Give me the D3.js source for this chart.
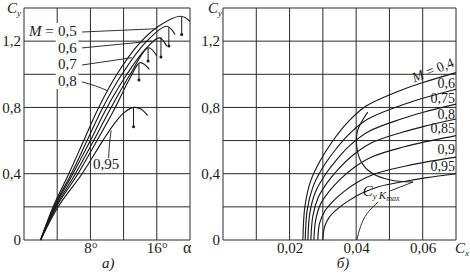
<!DOCTYPE html>
<html><head><meta charset="utf-8">
<script src="https://cdn.jsdelivr.net/npm/d3@7"></script>
<style>
body{margin:0;background:#fff}
svg{display:block}
text{font-family:"Liberation Serif","DejaVu Serif",serif;fill:#1a1a1a}
</style>
</head><body>
<svg id="chart" width="470" height="276"></svg>
<script>
// ---------- data ----------
const alphaGrid = [0, 4, 8, 12, 16, 20];
const alphaTicks = [8, 16];
const alphaTickLabels = ["8°", "16°"];
const cyGrid = [0, 0.2, 0.4, 0.6, 0.8, 1.0, 1.2, 1.4];
const cyTicks = [0, 0.4, 0.8, 1.2];
const cyTickLabels = ["0", "0,4", "0,8", "1,2"];
const cxGrid = [0, 0.01, 0.02, 0.03, 0.04, 0.05, 0.06, 0.07];
const cxTicks = [0.02, 0.04, 0.06];
const cxTickLabels = ["0,02", "0,04", "0,06"];

// panel a: Cy(alpha) for several Mach numbers  [alpha deg, Cy]
const liftMach = ["0,5", "0,6", "0,7", "0,75", "0,8", "0,95"];
const liftCurves = [
  [[2.0,0],[3.5,0.2],[5.4,0.4],[7.2,0.6],[9.0,0.8],[11.2,1.0],[13.8,1.18],[16.2,1.29],[18.9,1.35],[20.0,1.32]],
  [[2.0,0],[3.6,0.2],[5.7,0.4],[7.6,0.6],[9.5,0.8],[11.8,1.0],[14.6,1.19],[17.2,1.29],[18.2,1.24]],
  [[2.0,0],[3.7,0.2],[5.9,0.4],[8.0,0.6],[10.0,0.8],[12.4,1.0],[14.6,1.15],[16.3,1.22],[17.2,1.17]],
  [[2.0,0],[3.8,0.2],[6.2,0.4],[8.4,0.6],[10.5,0.8],[12.8,1.0],[15.0,1.16],[16.0,1.11]],
  [[2.0,0],[3.9,0.2],[6.5,0.4],[8.8,0.6],[11.0,0.8],[12.7,0.97],[14.0,1.07],[15.1,1.03]],
  [[2.0,0],[4.1,0.2],[7.0,0.4],[9.5,0.6],[11.0,0.71],[12.1,0.77],[13.2,0.80],[14.1,0.79],[14.9,0.75]]
];
// stall markers: [alpha, Cy on curve, Cy of dot]
const stallMarks = [[19.0,1.35,1.24],[17.45,1.285,1.17],[16.5,1.225,1.105],[14.95,1.16,1.08],[13.85,1.06,0.966],[13.2,0.80,0.683]];
// labels of panel a: [text, alpha, Cy]
const liftLabels = [["0,5",4.1,1.231],["0,6",4.1,1.129],["0,7",4.1,1.032],["0,8",4.1,0.929]];
const liftLabel95 = ["0,95",8.3,0.428];
const liftLeaders = [
  [[6.99,1.255],[16.0,1.275]],
  [[6.99,1.159],[15.4,1.20]],
  [[6.99,1.056],[13.0,1.10]],
  [[6.99,0.954],[8.6,0.93],[10.1,0.90]],
  [[10.2,0.495],[10.3,0.58],[10.5,0.66]]
];

// panel b: polars Cy(Cx)  [Cx, Cy]
const polarMach = ["0,4", "0,6", "0,75", "0,8", "0,85", "0,9", "0,95"];
const polarCurves = [
  [[0.0240,0],[0.0246,0.202],[0.0263,0.354],[0.0291,0.475],[0.0329,0.596],[0.0373,0.707],[0.0430,0.808],[0.0529,0.899],[0.0599,0.949],[0.0700,1.01]],
  [[0.0247,0],[0.0253,0.182],[0.0270,0.319],[0.0297,0.428],[0.0335,0.537],[0.0378,0.637],[0.0434,0.728],[0.0532,0.810],[0.0600,0.855],[0.0700,0.91]],
  [[0.0255,0],[0.0261,0.164],[0.0277,0.287],[0.0304,0.385],[0.0341,0.484],[0.0383,0.574],[0.0439,0.656],[0.0535,0.730],[0.0602,0.771],[0.0700,0.82]],
  [[0.0264,0],[0.0270,0.146],[0.0286,0.256],[0.0312,0.343],[0.0348,0.431],[0.0390,0.511],[0.0444,0.584],[0.0538,0.650],[0.0604,0.686],[0.0700,0.73]],
  [[0.0273,0],[0.0279,0.126],[0.0294,0.221],[0.0320,0.296],[0.0355,0.372],[0.0396,0.441],[0.0450,0.504],[0.0542,0.561],[0.0606,0.592],[0.0700,0.63]],
  [[0.0285,0],[0.0290,0.100],[0.0306,0.175],[0.0331,0.235],[0.0365,0.295],[0.0405,0.350],[0.0457,0.400],[0.0546,0.445],[0.0608,0.470],[0.0700,0.50]],
  [[0.0300,0],[0.0305,0.080],[0.0320,0.140],[0.0344,0.188],[0.0377,0.236],[0.0415,0.280],[0.0465,0.320],[0.0552,0.356],[0.0612,0.376],[0.0700,0.40]]
];
// polar label baselines: [Cx right end, Cy]
const polarLabelCy = [1.050, 0.917, 0.827, 0.730, 0.646, 0.519, 0.416];
const kmaxLocus = [[0.0435,0.772],[0.0405,0.664],[0.0402,0.561],[0.0417,0.465],[0.0447,0.404],[0.0502,0.362],[0.0571,0.350]];
const kmaxLeaderA = [[0.0502,0.296],[0.0571,0.350]];
const kmaxLeaderB = [[0.0402,0],[0.0413,0.08],[0.0433,0.16],[0.0466,0.229]];
const kmaxLabelPos = [0.0420, 0.266];

// ---------- drawing ----------
const svg = d3.select("#chart");
const xa = d3.scaleLinear().domain([0, 20]).range([24, 190]);
const xc = d3.scaleLinear().domain([0, 0.07]).range([223, 456]);
const y = d3.scaleLinear().domain([0, 1.4]).range([240, 8]);
const ink = "#1a1a1a";

function grid(xs, xvals) {
  const g = svg.append("g").attr("stroke", "#2a2a2a").attr("stroke-width", 1);
  g.selectAll(".v").data(xvals).join("line")
    .attr("x1", d => xs(d)).attr("x2", d => xs(d)).attr("y1", y(0)).attr("y2", y(1.4));
  g.selectAll(".h").data(cyGrid).join("line")
    .attr("x1", xs.range()[0]).attr("x2", xs.range()[1]).attr("y1", d => y(d)).attr("y2", d => y(d));
}
grid(xa, alphaGrid);
grid(xc, cxGrid);

function axes(xs, ticks, labels) {
  const ay = svg.append("g").attr("transform", `translate(${xs.range()[0]},0)`)
    .call(d3.axisLeft(y).tickValues(cyTicks).tickFormat((d, i) => cyTickLabels[i]).tickSize(0).tickPadding(3));
  const ax = svg.append("g").attr("transform", `translate(0,${y(0)})`)
    .call(d3.axisBottom(xs).tickValues(ticks).tickFormat((d, i) => labels[i]).tickSize(0).tickPadding(2));
  [ay, ax].forEach(g => {
    g.select(".domain").remove();
    g.selectAll("text").attr("font-size", 15).attr("fill", ink)
      .style("font-family", '"Liberation Serif","DejaVu Serif",serif');
  });
}
axes(xa, alphaTicks, alphaTickLabels);
axes(xc, cxTicks, cxTickLabels);

// axis titles
function cTitle(x, yy, sub) {
  const t = svg.append("text").attr("x", x).attr("y", yy).attr("font-size", 15).attr("font-style", "italic");
  t.append("tspan").text("C");
  t.append("tspan").attr("font-size", 9).attr("dy", 3).text(sub);
}
cTitle(xa(0) - 17, y(1.4) + 5, "y");
cTitle(xc(0) - 15, y(1.4) + 5, "y");
cTitle(xc(0.07) - 1, y(0) + 13, "x");
svg.append("text").attr("x", xa(20) - 7).attr("y", y(0) + 13).attr("font-size", 16).text("α");
svg.append("text").attr("x", xa(9.4)).attr("y", y(0) + 28).attr("font-size", 15).attr("font-style", "italic").text("а)");
svg.append("text").attr("x", xc(0.0342)).attr("y", y(0) + 28).attr("font-size", 15).attr("font-style", "italic").text("б)");

// panel a curves
const lineA = d3.line().x(d => xa(d[0])).y(d => y(d[1])).curve(d3.curveCatmullRom.alpha(0.5));
svg.append("g").selectAll("path").data(liftCurves).join("path")
  .attr("d", lineA).attr("fill", "none").attr("stroke", ink).attr("stroke-width", 1.15);
const mk = svg.append("g");
mk.selectAll("line").data(stallMarks).join("line")
  .attr("x1", d => xa(d[0])).attr("x2", d => xa(d[0]))
  .attr("y1", d => y(d[1])).attr("y2", d => y(d[2]))
  .attr("stroke", ink).attr("stroke-width", 1);
mk.selectAll("circle").data(stallMarks).join("circle")
  .attr("cx", d => xa(d[0])).attr("cy", d => y(d[2])).attr("r", 1.5).attr("fill", ink);

// labels of panel a with white backing
const lg = svg.append("g");
const bg = lg.append("rect").attr("fill", "#fff");
const mText = lg.append("text").attr("x", xa(0.6)).attr("y", y(liftLabels[0][2])).attr("font-size", 15);
mText.append("tspan").attr("font-style", "italic").text("M");
mText.append("tspan").text(" =");
lg.selectAll(".ll").data(liftLabels).join("text").attr("class", "ll")
  .attr("x", d => xa(d[1])).attr("y", d => y(d[2])).attr("font-size", 15).text(d => d[0]);
const bb = lg.node().getBBox();
const lb = lg.selectAll(".ll").nodes().map(n => n.getBBox());
const bx0 = d3.min(lb, b => b.x) - 1, bx1 = d3.max(lb, b => b.x + b.width) + 1;
bg.attr("x", bx0 - 0.5 < xa(4) ? xa(4) - 1.5 : bx0).attr("y", bb.y).attr("width", bx1 - (xa(4) - 1.5)).attr("height", bb.height);
svg.append("text").attr("x", xa(liftLabel95[1])).attr("y", y(liftLabel95[2])).attr("font-size", 15).text(liftLabel95[0]);
const leaderLine = d3.line().x(d => xa(d[0])).y(d => y(d[1])).curve(d3.curveNatural);
svg.append("g").selectAll("path").data(liftLeaders).join("path")
  .attr("d", leaderLine).attr("fill", "none").attr("stroke", ink).attr("stroke-width", 0.9);

// panel b curves
const lineB = d3.line().x(d => xc(d[0])).y(d => y(d[1])).curve(d3.curveCatmullRom.alpha(0.5));
svg.append("g").selectAll("path").data(polarCurves).join("path")
  .attr("d", lineB).attr("fill", "none").attr("stroke", ink).attr("stroke-width", 1.15);
svg.append("path").datum(kmaxLocus).attr("d", lineB).attr("fill", "none").attr("stroke", ink).attr("stroke-width", 1.1);
const lineBn = d3.line().x(d => xc(d[0])).y(d => y(d[1])).curve(d3.curveNatural);
[kmaxLeaderA, kmaxLeaderB].forEach(p => svg.append("path").datum(p).attr("d", lineBn)
  .attr("fill", "none").attr("stroke", ink).attr("stroke-width", 0.9));

// polar labels
polarMach.forEach((m, i) => {
  const t = svg.append("text").attr("text-anchor", "end").attr("font-size", 14)
    .attr("x", xc(0.0697)).attr("y", y(polarLabelCy[i]));
  if (i === 0) {
    t.attr("transform", `rotate(-22,${xc(0.0697)},${y(polarLabelCy[i])})`);
    t.append("tspan").attr("font-style", "italic").text("M");
    t.append("tspan").text(" = " + m);
  } else t.text(m);
});
// C_y K_max label
const kl = svg.append("text").attr("x", xc(kmaxLabelPos[0])).attr("y", y(kmaxLabelPos[1]))
  .attr("font-size", 15).attr("font-style", "italic");
kl.append("tspan").text("C");
kl.append("tspan").attr("font-size", 9).attr("dy", 3).text("y");
kl.append("tspan").attr("font-size", 11).attr("dx", 2).text("K");
kl.append("tspan").attr("font-size", 8).attr("dy", 2).text("max");
</script>
</body></html>
